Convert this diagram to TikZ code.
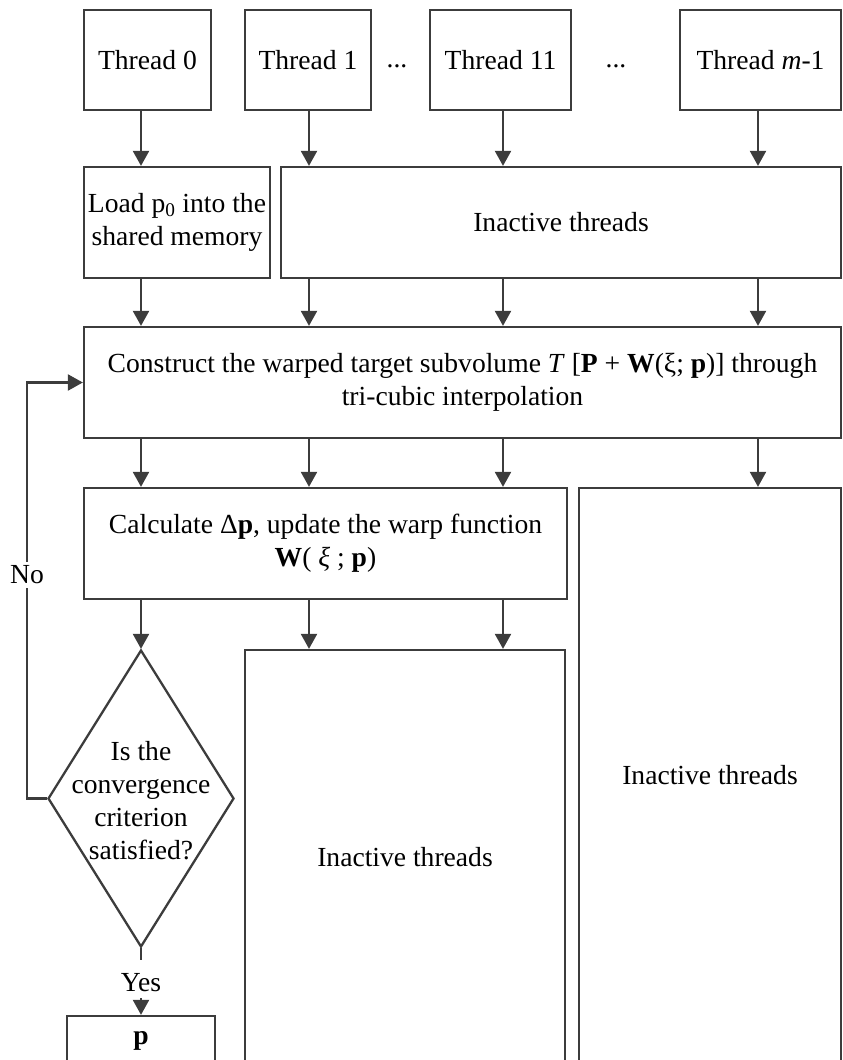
\documentclass[tikz,border=0pt]{standalone}
\usepackage{fontspec}
\setmainfont{Liberation Serif}
\usetikzlibrary{arrows.meta,shapes.geometric}
\definecolor{ln}{HTML}{3C3C3C}
\begin{document}
\begin{tikzpicture}[x=1pt,y=-1pt,
  txt/.style={font=\fontsize{27.6}{33}\selectfont, align=center},
  box/.style={txt, draw=ln, line width=2.3pt, inner sep=0pt},
  line/.style={draw=ln, line width=2.3pt},
  arr/.style={line, -{Triangle[length=15pt,width=16pt]}}]
\useasboundingbox (0,0) rectangle (843,1060);
\clip (0,0) rectangle (843,1060);
% columns
\coordinate (cA) at (141,0);
\coordinate (cB) at (309,0);
\coordinate (cC) at (503,0);
\coordinate (cD) at (758,0);
% row 1: threads
\node[box, minimum width=127, minimum height=100] (t0) at (147.5,60) {Thread 0};
\node[box, minimum width=126, minimum height=100] (t1) at (308,60) {Thread 1};
\node[box, minimum width=141, minimum height=100] (t11) at (500.5,60) {Thread 11};
\node[box, minimum width=161, minimum height=100] (tm) at (760.5,60) {Thread \textit{m}-1};
\node[txt, inner sep=0pt] (d1) at (397,66.5) {...};
\node[txt, inner sep=0pt] (d2) at (616,66.5) {...};
% row 2
\node[box, minimum width=186, minimum height=111] (load) at (177,222.5) {Load p\textsubscript{0} into the\\shared memory};
\node[box, minimum width=560, minimum height=111] (in1) at (561,222.5) {Inactive threads};
% row 3
\node[box, minimum width=757, minimum height=111] (cons) at (462.5,382.5)
  {Construct the warped target subvolume \textit{T} [\textbf{P} + \textbf{W}(ξ; \textbf{p})] through\\tri-cubic interpolation};
% row 4
\node[box, minimum width=483, minimum height=111] (calc) at (325.5,543.5)
  {Calculate Δ\textbf{p}, update the warp function\\\textbf{W}( \textit{ξ} ; \textbf{p})};
\node[box, minimum width=262, minimum height=575] (in3) at (710,775.5) {Inactive threads};
% row 5
\node[draw=ln, line width=2.3pt, shape=diamond, inner sep=0pt, minimum width=186, minimum height=297] (dia) at (141,798.5) {};
\node[txt, inner sep=0pt] (diat) at (141,801) {Is the\\convergence\\criterion\\satisfied?};
\node[box, minimum width=320, minimum height=414] (in2) at (405,857) {Inactive threads};
\node[txt, inner sep=0pt] (yes) at (141,983) {Yes};
\node[box, minimum width=148, minimum height=50] (pb) at (141,1041) {\textbf{p}};
% arrows row 1
\draw[arr] (t0.south -| cA) -- (load.north -| cA);
\draw[arr] (t1.south -| cB) -- (in1.north -| cB);
\draw[arr] (t11.south -| cC) -- (in1.north -| cC);
\draw[arr] (tm.south -| cD) -- (in1.north -| cD);
% arrows row 2
\draw[arr] (load.south -| cA) -- (cons.north -| cA);
\draw[arr] (in1.south -| cB) -- (cons.north -| cB);
\draw[arr] (in1.south -| cC) -- (cons.north -| cC);
\draw[arr] (in1.south -| cD) -- (cons.north -| cD);
% arrows row 3
\draw[arr] (cons.south -| cA) -- (calc.north -| cA);
\draw[arr] (cons.south -| cB) -- (calc.north -| cB);
\draw[arr] (cons.south -| cC) -- (calc.north -| cC);
\draw[arr] (cons.south -| cD) -- (in3.north -| cD);
% arrows row 4
\draw[arr] (calc.south -| cA) -- (dia.north);
\draw[arr] (calc.south -| cB) -- (in2.north -| cB);
\draw[arr] (calc.south -| cC) -- (in2.north -| cC);
% yes
\draw[line] (dia.south) -- ([yshift=14pt]yes.north);
\draw[arr] ([yshift=-6pt]yes.south) -- (pb.north);
% feedback
\coordinate (fb) at (27,798.5);
\draw[arr] (dia.west) -- (fb) |- (cons.west);
\node[txt, fill=white, inner xsep=2pt, inner ysep=4pt] (no) at (27,575) {No};
\end{tikzpicture}
\end{document}
